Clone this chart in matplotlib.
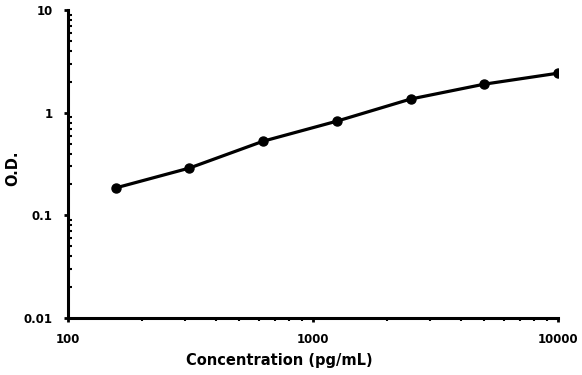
import matplotlib
matplotlib.use("Agg")
import matplotlib.pyplot as plt
from matplotlib.ticker import LogLocator, FixedLocator, NullFormatter

conc = [156.25, 312.5, 625, 1250, 2500, 5000, 10000]
od = [0.185, 0.289, 0.528, 0.828, 1.36, 1.90, 2.43]

x_ticks = [100, 1000, 10000]
x_labels = ["100", "1000", "10000"]
y_ticks = [0.01, 0.1, 1, 10]
y_labels = ["0.01", "0.1", "1", "10"]

plt.rcParams['font.family'] = ['DejaVu Sans']

fig = plt.figure(figsize=(5.82, 3.75), dpi=100)
ax = fig.add_axes([0.117, 0.152, 0.842, 0.821])

ax.plot(conc, od, color='black', lw=2.3, marker='o', ms=6.5, solid_capstyle='round')

ax.set_xscale('log')
ax.set_yscale('log')
ax.set_xlim(100, 10000)
ax.set_ylim(0.01, 10)

ax.xaxis.set_major_locator(FixedLocator(x_ticks))
ax.set_xticklabels(x_labels)
ax.yaxis.set_major_locator(FixedLocator(y_ticks))
ax.set_yticklabels(y_labels)
ax.xaxis.set_minor_locator(LogLocator(base=10, subs=range(2, 10)))
ax.yaxis.set_minor_locator(LogLocator(base=10, subs=range(2, 10)))
ax.xaxis.set_minor_formatter(NullFormatter())
ax.yaxis.set_minor_formatter(NullFormatter())

for side in ['top', 'right']:
    ax.spines[side].set_visible(False)
for side in ['left', 'bottom']:
    ax.spines[side].set_linewidth(2.2)

ax.tick_params(which='major', length=3, width=2, labelsize=8.5, pad=8)
ax.tick_params(axis='y', which='minor', direction='in', length=3, width=1.5)
ax.tick_params(axis='x', which='minor', direction='out', length=2, width=1.5)
for lab in ax.get_xticklabels() + ax.get_yticklabels():
    lab.set_fontweight('bold')

ax.set_xlabel('Concentration (pg/mL)', fontsize=10.5, fontweight='bold')
ax.xaxis.set_label_coords(0.43, -0.115)
ax.set_ylabel('O.D.', fontsize=10.5, fontweight='bold')
ax.yaxis.set_label_coords(-0.097, 0.487)

fig.savefig('out.png', dpi=100)
